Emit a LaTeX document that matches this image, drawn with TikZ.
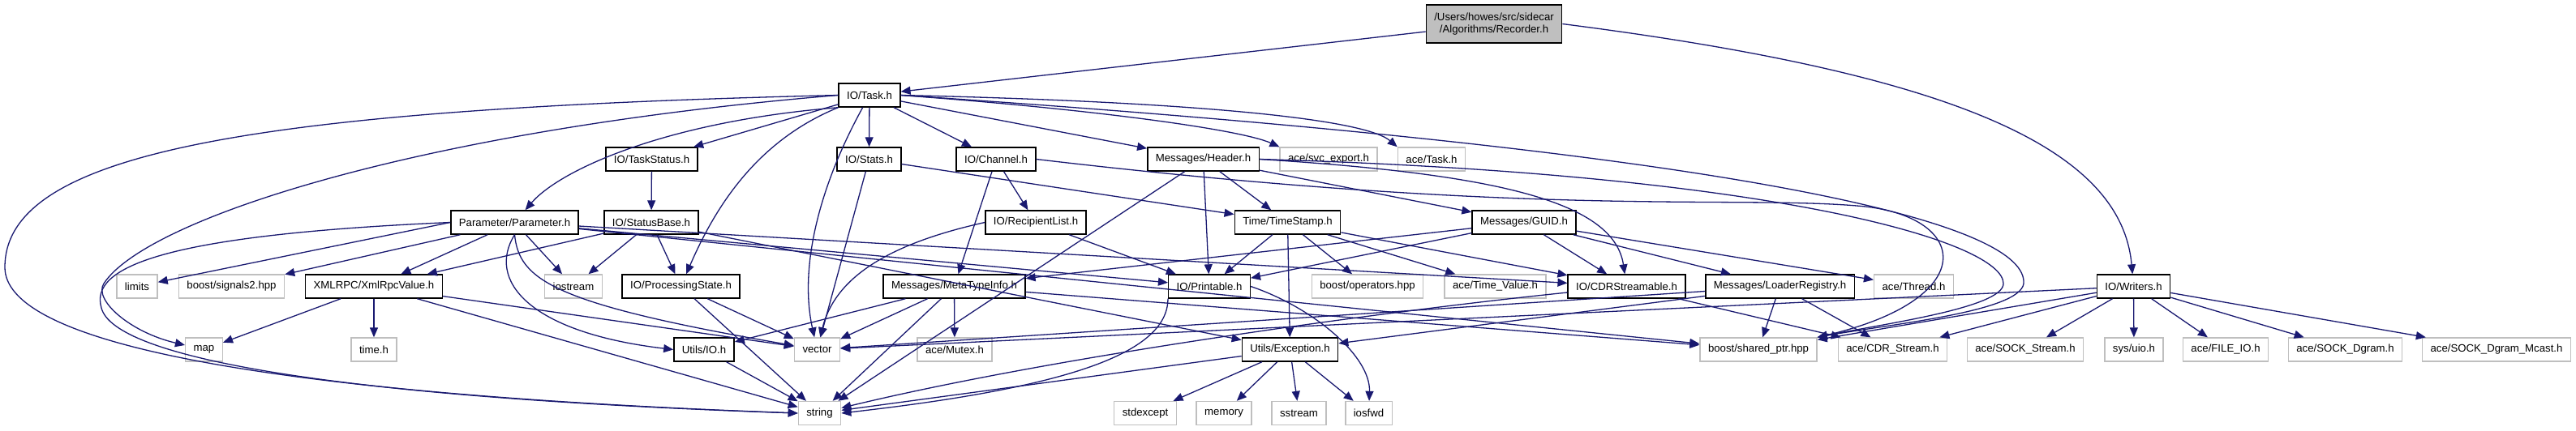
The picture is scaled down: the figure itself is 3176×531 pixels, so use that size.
\documentclass[tikz,border=0pt]{standalone}
\usepackage{fontspec}
\setmainfont{Liberation Sans}
\usetikzlibrary{arrows.meta}
\definecolor{depblue}{HTML}{191970}
\definecolor{extgray}{HTML}{BFBFBF}
\tikzset{
  file/.style={draw=black,line width=1.4pt,fill=white,minimum height=29pt,
    inner xsep=10pt,inner ysep=0pt,font=\fontsize{13.2}{15}\selectfont},
  sysfile/.style={file,draw=extgray},
  dep/.style={->,draw=depblue,line width=1.3pt}
}
\begin{document}
\begin{tikzpicture}[>={Triangle[length=12pt,width=10pt]},x=1pt,y=-1pt]
  \useasboundingbox (0,0) rectangle (3176,531);
  % files, row by row
  \node[file,fill=extgray,minimum height=47pt,align=center] (rec) at (1842,29.5)
    {/Users/howes/src/sidecar\\/Algorithms/Recorder.h};
  \node[file] (task) at (1072,117.5) {IO/Task.h};
  \node[file] (taskstatus) at (803.5,196.5) {IO/TaskStatus.h};
  \node[file] (stats) at (1071.5,196.5) {IO/Stats.h};
  \node[file] (channel) at (1228,196.5) {IO/Channel.h};
  \node[file] (header) at (1483.5,196.5) {Messages/Header.h};
  \node[sysfile] (svcexport) at (1638,196.5) {ace/svc\_export.h};
  \node[sysfile] (acetask) at (1765,196.5) {ace/Task.h};
  \node[file] (param) at (634.5,274.5) {Parameter/Parameter.h};
  \node[file] (statusbase) at (803,274.5) {IO/StatusBase.h};
  \node[file] (recip) at (1277,274.5) {IO/RecipientList.h};
  \node[file] (timestamp) at (1587.5,274.5) {Time/TimeStamp.h};
  \node[file] (guid) at (1879,274.5) {Messages/GUID.h};
  \node[sysfile] (limits) at (169,353.5) {limits};
  \node[sysfile] (signals) at (285.5,353.5) {boost/signals2.hpp};
  \node[file] (xmlrpc) at (461,353.5) {XMLRPC/XmlRpcValue.h};
  \node[sysfile] (iostream) at (707,353.5) {iostream};
  \node[file] (procstate) at (839.5,353.5) {IO/ProcessingState.h};
  \node[file] (metatype) at (1176.5,353.5) {Messages/MetaTypeInfo.h};
  \node[file] (printable) at (1491,353.5) {IO/Printable.h};
  \node[sysfile] (operators) at (1686,353.5) {boost/operators.hpp};
  \node[sysfile] (timevalue) at (1843.5,353.5) {ace/Time\_Value.h};
  \node[file] (cdrable) at (2005.5,353.5) {IO/CDRStreamable.h};
  \node[file] (loader) at (2194.5,353.5) {Messages/LoaderRegistry.h};
  \node[sysfile] (thread) at (2359.5,353.5) {ace/Thread.h};
  \node[file] (writers) at (2630.5,353.5) {IO/Writers.h};
  \node[sysfile] (map) at (251.5,431.5) {map};
  \node[sysfile] (timeh) at (461,431.5) {time.h};
  \node[file] (utilsio) at (868,431.5) {Utils/IO.h};
  \node[sysfile] (vector) at (1007.5,431.5) {vector};
  \node[sysfile] (mutex) at (1177,431.5) {ace/Mutex.h};
  \node[file] (exception) at (1590.5,431.5) {Utils/Exception.h};
  \node[sysfile] (sharedptr) at (2168,431.5) {boost/shared\_ptr.hpp};
  \node[sysfile] (cdrstream) at (2333.5,431.5) {ace/CDR\_Stream.h};
  \node[sysfile] (sockstream) at (2497,431.5) {ace/SOCK\_Stream.h};
  \node[sysfile] (uio) at (2631,431.5) {sys/uio.h};
  \node[sysfile] (fileio) at (2744,431.5) {ace/FILE\_IO.h};
  \node[sysfile] (sockdgram) at (2891.5,431.5) {ace/SOCK\_Dgram.h};
  \node[sysfile] (mcast) at (3078,431.5) {ace/SOCK\_Dgram\_Mcast.h};
  \node[sysfile] (string) at (1010.5,510) {string};
  \node[sysfile] (stdexcept) at (1412,510) {stdexcept};
  \node[sysfile] (memory) at (1509,510) {memory};
  \node[sysfile] (sstream) at (1601.5,510) {sstream};
  \node[sysfile] (iosfwd) at (1687.5,510) {iosfwd};

  % includes
  \draw[dep] (rec) -- (task);
  \draw[dep] (rec.east) .. controls (2400,90) and (2615,180) .. (writers);

  \draw[dep] (task.west) .. controls (300,135) and (6,190) .. (6,330)
    .. controls (6,420) and (300,485) .. (string.west);
  \draw[dep] (task.west) .. controls (520,160) and (180,270) .. (128,350)
    .. controls (115,370) and (160,410) .. (map);
  \draw[dep] (task.south west) .. controls (820,150) and (690,210) .. (param);
  \draw[dep] (task) -- (taskstatus);
  \draw[dep] (task.south west) .. controls (930,175) and (880,260) .. (procstate);
  \draw[dep] (task) .. controls (1010,230) and (985,330) .. (vector);
  \draw[dep] (task) -- (stats);
  \draw[dep] (task) -- (channel);
  \draw[dep] (task) -- (header);
  \draw[dep] (task.east) .. controls (1350,135) and (1530,160) .. (svcexport.north west);
  \draw[dep] (task.east) .. controls (1450,125) and (1680,145) .. (acetask.north west);
  \draw[dep] (task.east) .. controls (2200,190) and (2500,280) .. (2495,350)
    .. controls (2490,385) and (2330,400) .. (sharedptr.north east);

  \draw[dep] (taskstatus) -- (statusbase);
  \draw[dep] (stats) -- (vector);
  \draw[dep] (stats) -- (timestamp);
  \draw[dep] (channel) -- (recip);
  \draw[dep] (channel) -- (metatype);
  \draw[dep] (channel.east) .. controls (1900,270) and (2150,240) .. (2300,255)
    .. controls (2430,270) and (2440,370) .. (sharedptr.north east);
  \draw[dep] (header) -- (timestamp);
  \draw[dep] (header) -- (guid);
  \draw[dep] (header) -- (printable);
  \draw[dep] (header) -- (string);
  \draw[dep] (header.east) .. controls (1850,215) and (1990,250) .. (cdrable);
  \draw[dep] (header.east) .. controls (2200,215) and (2470,300) .. (2470,350)
    .. controls (2470,380) and (2320,400) .. (sharedptr.north east);

  \draw[dep] (param.west) -- (limits);
  \draw[dep] (param.west) .. controls (200,290) and (110,330) .. (125,380)
    .. controls (140,440) and (400,490) .. (string.west);
  \draw[dep] (param) -- (signals);
  \draw[dep] (param) -- (xmlrpc);
  \draw[dep] (param) -- (iostream);
  \draw[dep] (param.south) .. controls (640,345) and (680,375) .. (vector);
  \draw[dep] (param.south) .. controls (600,345) and (650,410) .. (utilsio.west);
  \draw[dep] (param) -- (printable);
  \draw[dep] (param) -- (cdrable);
  \draw[dep] (param) -- (sharedptr);

  \draw[dep] (statusbase) -- (xmlrpc);
  \draw[dep] (statusbase) -- (iostream);
  \draw[dep] (statusbase) -- (procstate);
  \draw[dep] (statusbase) -- (exception);

  \draw[dep] (recip.west) .. controls (1100,300) and (1030,340) .. (vector);
  \draw[dep] (recip) -- (printable);
  \draw[dep] (timestamp) -- (printable);
  \draw[dep] (timestamp) -- (operators);
  \draw[dep] (timestamp) -- (timevalue);
  \draw[dep] (timestamp) -- (cdrable);
  \draw[dep] (timestamp) -- (exception);
  \draw[dep] (guid) -- (metatype);
  \draw[dep] (guid) -- (printable);
  \draw[dep] (guid) -- (cdrable);
  \draw[dep] (guid) -- (loader);
  \draw[dep] (guid) -- (thread);

  \draw[dep] (xmlrpc) -- (map);
  \draw[dep] (xmlrpc) -- (timeh);
  \draw[dep] (xmlrpc) -- (string);
  \draw[dep] (xmlrpc) -- (vector);
  \draw[dep] (procstate) -- (vector);
  \draw[dep] (procstate) -- (string);
  \draw[dep] (metatype) -- (utilsio);
  \draw[dep] (metatype) -- (vector);
  \draw[dep] (metatype) -- (string);
  \draw[dep] (metatype) -- (mutex);
  \draw[dep] (metatype) -- (sharedptr);
  \draw[dep] (printable.south west) .. controls (1440,440) and (1300,480) .. (string.east);
  \draw[dep] (printable.east) .. controls (1620,380) and (1690,440) .. (iosfwd);
  \draw[dep] (cdrable) .. controls (1700,385) and (1300,440) .. (string);
  \draw[dep] (cdrable) -- (cdrstream);
  \draw[dep] (loader) -- (vector);
  \draw[dep] (loader) -- (exception);
  \draw[dep] (loader) -- (sharedptr);
  \draw[dep] (loader) -- (cdrstream);

  \draw[dep] (writers) -- (vector);
  \draw[dep] (writers) -- (sharedptr);
  \draw[dep] (writers) -- (cdrstream);
  \draw[dep] (writers) -- (sockstream);
  \draw[dep] (writers) -- (uio);
  \draw[dep] (writers) -- (fileio);
  \draw[dep] (writers) -- (sockdgram);
  \draw[dep] (writers) -- (mcast);

  \draw[dep] (utilsio) -- (string);
  \draw[dep] (exception) -- (string);
  \draw[dep] (exception) -- (stdexcept);
  \draw[dep] (exception) -- (memory);
  \draw[dep] (exception) -- (sstream);
  \draw[dep] (exception) -- (iosfwd);
\end{tikzpicture}
\end{document}
